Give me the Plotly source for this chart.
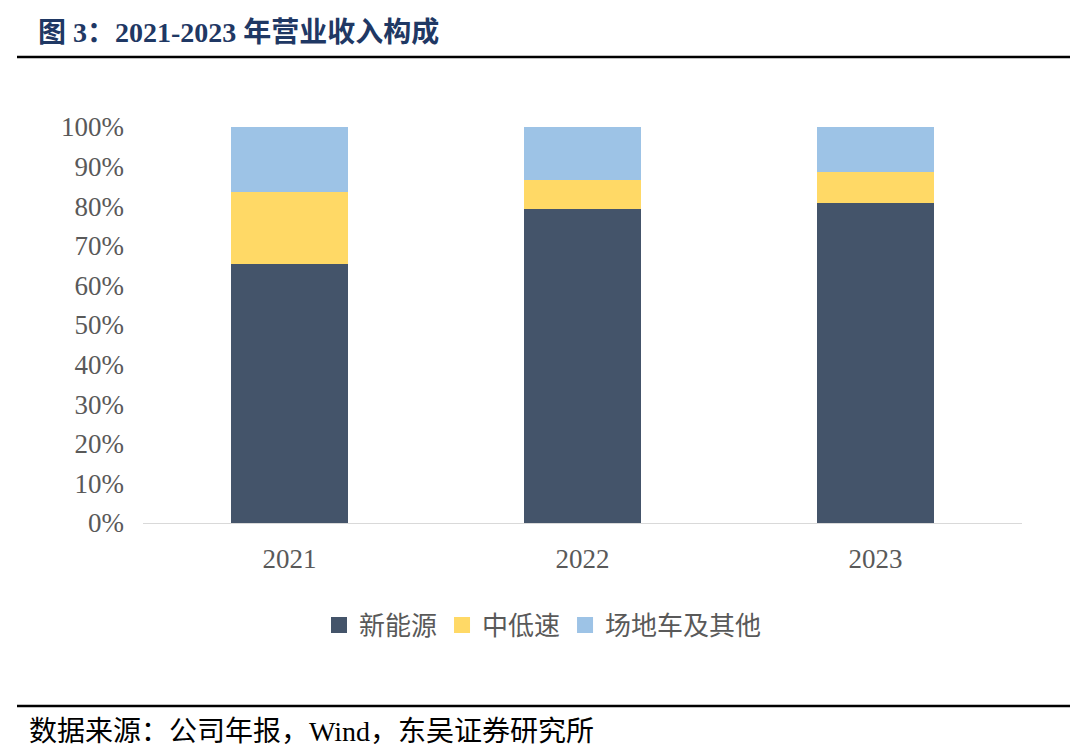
import plotly.graph_objects as go

years = ["2021", "2022", "2023"]
xin_nengyuan = [65.5, 79.4, 80.7]
zhong_di_su = [18.1, 7.3, 8.0]
changdi_qita = [16.4, 13.3, 11.3]
series_names = ["新能源", "中低速", "场地车及其他"]
colors = ["#44546A", "#FFD966", "#9DC3E6"]
y_ticks = [0, 10, 20, 30, 40, 50, 60, 70, 80, 90, 100]
y_ticktext = [f"{v}%" for v in y_ticks]

# page body has an 8px margin; figure is placed at (8, 8)
OFF = 8
W, H = 1072, 741
L, R, T, B = 135, 58, 119, 226
pw, ph = W - L - R, H - T - B

def px_x(x):
    return (x - OFF - L) / pw

def px_y(y):
    return (H - B - (y - OFF)) / ph

fig = go.Figure()
for name, vals, c in zip(series_names, [xin_nengyuan, zhong_di_su, changdi_qita], colors):
    fig.add_trace(go.Bar(x=years, y=vals, name=name, showlegend=False,
                         marker=dict(color=c, line=dict(width=0))))
for name, c in zip(series_names, colors):
    fig.add_trace(go.Scatter(x=[None], y=[None], mode="markers", name=name,
                             marker=dict(symbol="square", size=18, color=c)))

serif = "Liberation Serif, Times New Roman, Noto Sans CJK SC, serif"
fig.update_layout(
    width=W, height=H,
    barmode="stack", bargap=0.6,
    margin=dict(l=L, r=R, t=T, b=B, autoexpand=False),
    plot_bgcolor="white", paper_bgcolor="white",
    font=dict(family=serif, color="#595959", size=22),
    showlegend=True,
    legend=dict(orientation="h", x=px_x(543), y=px_y(625), xanchor="center", yanchor="middle",
                font=dict(size=26, family="Noto Sans CJK SC, serif", color="#595959"),
                itemwidth=30, traceorder="normal"),
    xaxis=dict(showline=True, linecolor="#D9D9D9", linewidth=1, ticks="", showgrid=False,
               tickfont=dict(size=27, family=serif, color="#595959"), ticklabelstandoff=12),
    yaxis=dict(range=[0, 100], tickvals=y_ticks, ticktext=y_ticktext, showgrid=False,
               zeroline=False, showline=False, ticks="", ticklabelstandoff=18,
               tickfont=dict(size=27, family=serif, color="#595959")),
)

fig.add_annotation(text="<b>图 3：2021-2023 年营业收入构成</b>", xref="paper", yref="paper",
                   x=px_x(36), y=px_y(32), xanchor="left", yanchor="middle", showarrow=False,
                   font=dict(size=28, family="Liberation Serif, Noto Sans CJK SC, serif", color="#1F3864"))
fig.add_annotation(text="数据来源：公司年报，Wind，东吴证券研究所", xref="paper", yref="paper",
                   x=px_x(27), y=px_y(731), xanchor="left", yanchor="middle", showarrow=False,
                   font=dict(size=28, family="Liberation Serif, Noto Sans CJK SC, serif", color="#000000"))
for yy in [57, 706]:
    fig.add_shape(type="line", xref="paper", yref="paper", x0=px_x(17), x1=px_x(1070),
                  y0=px_y(yy), y1=px_y(yy), line=dict(color="#000000", width=2.5))

fig.write_html("out.html")
